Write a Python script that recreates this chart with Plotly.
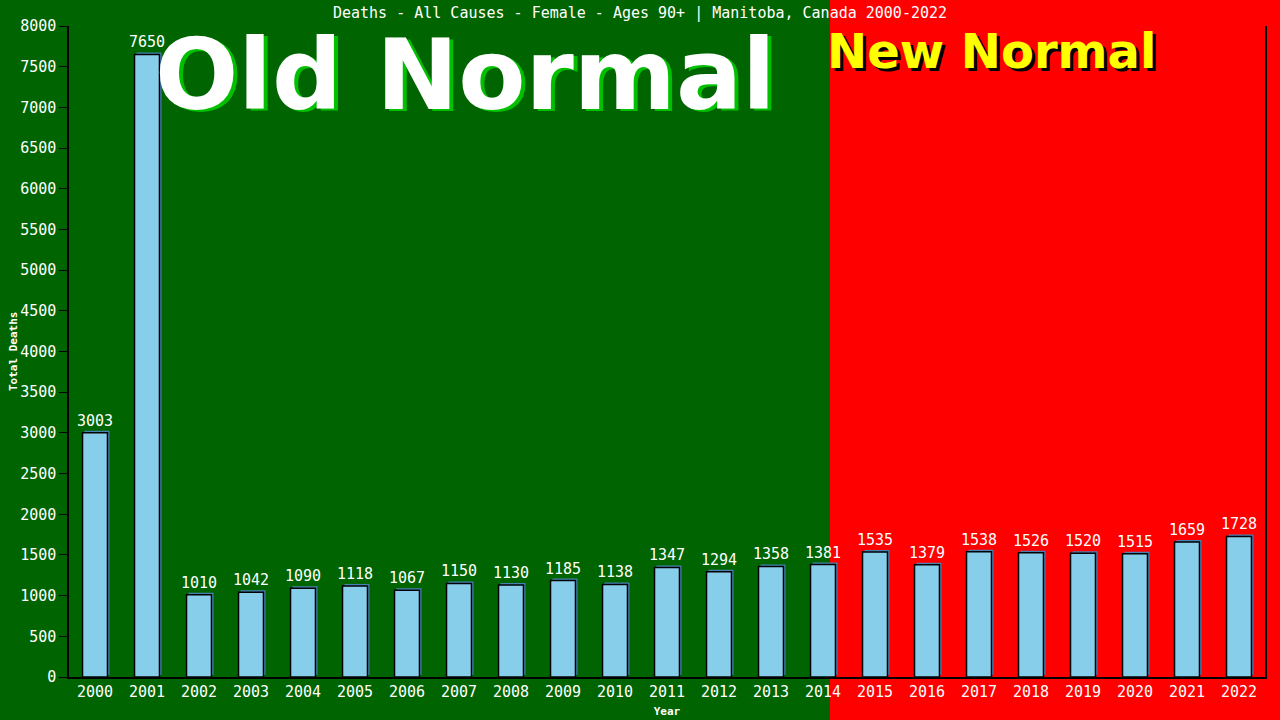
import plotly.graph_objects as go

years = [str(y) for y in range(2000, 2023)]
deaths = [3003, 7650, 1010, 1042, 1090, 1118, 1067, 1150, 1130, 1185, 1138, 1347,
          1294, 1358, 1381, 1535, 1379, 1538, 1526, 1520, 1515, 1659, 1728]
y_ticks = list(range(0, 8001, 500))

title = "Deaths - All Causes - Female - Ages 90+ | Manitoba, Canada 2000-2022"
mono = "DejaVu Sans Mono"

# plot area in pixels (from the reference)
L, R, T, B = 69, 1265, 26, 677
W, H = R - L, B - T


def px(x):
    return (x - L) / W


def py(y):
    return (B - y) / H


fig = go.Figure()

# shadow behind each bar
fig.add_trace(go.Bar(
    x=years, y=deaths, base=2 * 8000 / H,
    width=0.48, offset=-0.24 + 2 / 52,
    marker=dict(color="#4682B4", line=dict(width=0)),
    hoverinfo="skip", showlegend=False,
))

fig.add_trace(go.Bar(
    x=years, y=deaths,
    width=0.48, offset=-0.24,
    marker=dict(color="#87CEEB", line=dict(color="black", width=1.5)),
    text=[str(v) for v in deaths], textposition="outside", constraintext="none",
    textfont=dict(family=mono, size=15, color="white"),
    cliponaxis=False, showlegend=False,
))

# old / new normal backgrounds
fig.add_shape(type="rect", xref="paper", yref="paper",
              x0=px(0), x1=px(830), y0=py(720), y1=py(0),
              fillcolor="#006400", line_width=0, layer="below")
fig.add_shape(type="rect", xref="paper", yref="paper",
              x0=px(830), x1=px(1280), y0=py(720), y1=py(0),
              fillcolor="#FF0000", line_width=0, layer="below")

big = "DejaVu Sans"
for dx, col in [(4, "#00C000"), (0, "white")]:
    fig.add_annotation(text="<b>Old Normal</b>", xref="paper", yref="paper",
                       x=px(465 + dx), y=py(75 + dx / 2), showarrow=False,
                       xanchor="center", yanchor="middle",
                       font=dict(family=big, size=98, color=col))
for dx, col in [(3, "black"), (0, "#FFFF00")]:
    fig.add_annotation(text="<b>New Normal</b>", xref="paper", yref="paper",
                       x=px(991 + dx), y=py(51 + dx), showarrow=False,
                       xanchor="center", yanchor="middle",
                       font=dict(family=big, size=48, color=col))

# y axis title placed by hand
fig.add_annotation(text="<b>Total Deaths</b>", xref="paper", yref="paper",
                   x=px(13), y=py(352), showarrow=False, textangle=-90,
                   xanchor="center", yanchor="middle",
                   font=dict(family=mono, size=11, color="white"))

fig.update_layout(
    width=1280, height=720,
    margin=dict(l=L, r=1280 - R, t=T, b=720 - B, autoexpand=False),
    paper_bgcolor="#006400", plot_bgcolor="rgba(0,0,0,0)",
    barmode="overlay",
    title=dict(text=title, x=0.5, xanchor="center", y=1 - 13 / 720, yanchor="middle",
               font=dict(family=mono, size=15, color="white")),
    font=dict(family=mono, color="white"),
)
fig.update_xaxes(
    type="category", showgrid=False, showline=True, linecolor="black", linewidth=1.5,
    ticks="", automargin=False, tickfont=dict(family=mono, size=15, color="white"),
    title=dict(text="<b>Year</b>", font=dict(family=mono, size=11, color="white"), standoff=8),
)
fig.update_yaxes(
    range=[0, 8000], tickvals=y_ticks, showgrid=False, zeroline=False,
    showline=True, linecolor="black", linewidth=1.5, mirror=True, automargin=False,
    ticks="outside", ticklen=8, tickcolor="black",
    tickfont=dict(family=mono, size=15, color="white"),
)

# page has a default 8px body margin; drop it so the figure fills the window
fig.write_html("out.html", config={"displayModeBar": False},
               post_script="document.body.style.margin='0';")
